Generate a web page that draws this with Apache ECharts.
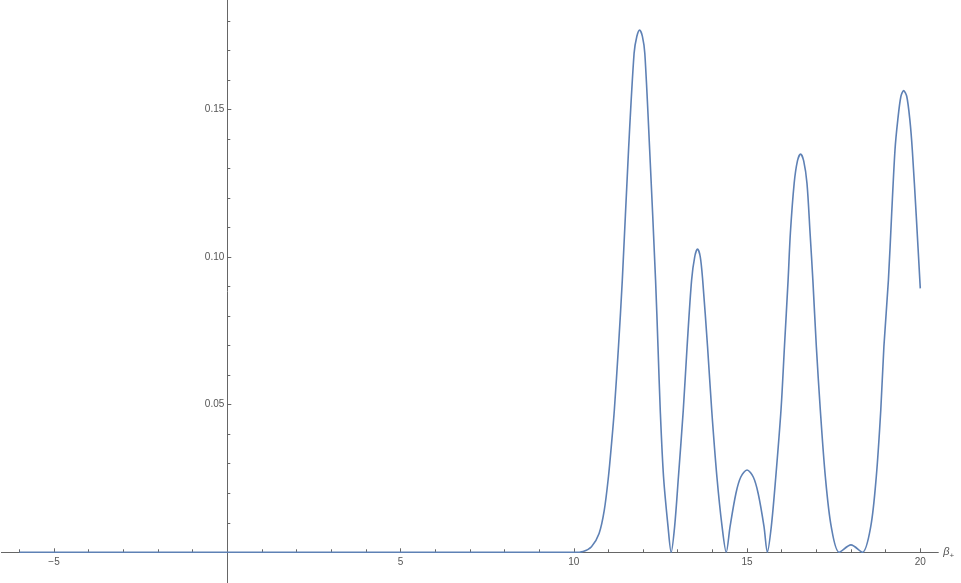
<!DOCTYPE html>
<html>
<head>
<meta charset="utf-8">
<script src="https://cdn.jsdelivr.net/npm/echarts@6/dist/echarts.min.js"></script>
<style>
  html, body { margin: 0; padding: 0; background: #fff; }
  #plot { width: 961px; height: 583px; }
</style>
</head>
<body>
<div id="plot"></div>
<script>
// curve: beta_+ values and the plotted height
const betaX = [
  -6, 10, 10.27, 10.51, 10.73, 10.88, 11.00, 11.09, 11.17, 11.29, 11.40, 11.58, 11.74, 11.82, 11.90,
  11.98, 12.05, 12.19, 12.36, 12.43, 12.495, 12.59, 12.72, 12.81, 12.91, 13.02, 13.16,
  13.27, 13.40, 13.49, 13.57, 13.65, 13.72, 13.86, 13.98, 14.13, 14.28, 14.40, 14.51, 14.68, 14.82, 15.0,
  15.18, 15.32, 15.49, 15.585, 15.70, 15.83, 15.98, 16.08, 16.185, 16.25, 16.36, 16.455, 16.545,
  16.635, 16.73, 16.82, 16.90, 17.0, 17.115, 17.26, 17.43, 17.66, 18.0, 18.33,
  18.57, 18.73, 18.86, 18.95, 19.08, 19.17, 19.27, 19.35, 19.44, 19.52, 19.61, 19.70, 19.77, 19.885, 20.0
];
const betaY = [
  0, 0, 0.0003, 0.0019, 0.0064, 0.0143, 0.0256, 0.0369, 0.0482, 0.0697, 0.0922, 0.1363, 0.169, 0.1748, 0.1769,
  0.1748, 0.169, 0.1363, 0.0922, 0.0697, 0.0482, 0.0256, 0.0087, 0, 0.0087, 0.0256, 0.0482,
  0.0697, 0.0922, 0.1001, 0.1027, 0.1001, 0.0922, 0.0697, 0.0482, 0.0256, 0.0087, 0, 0.0087, 0.0200, 0.0255, 0.0279,
  0.0255, 0.0200, 0.0087, 0, 0.0087, 0.0256, 0.0482, 0.0697, 0.0922, 0.108, 0.125, 0.1326, 0.1349,
  0.1326, 0.125, 0.108, 0.0922, 0.0697, 0.0482, 0.0256, 0.0087, 0, 0.0025, 0,
  0.0087, 0.0256, 0.0482, 0.0697, 0.0922, 0.1137, 0.1363, 0.1464, 0.1544, 0.1564, 0.1544, 0.1464, 0.1363, 0.1137, 0.0894
];

const xLabels = [-5, 5, 10, 15, 20];
const xMajorTicks = [-5, 5, 10, 15, 20];
const xMinorTicks = [-6, -4, -3, -2, -1, 1, 2, 3, 4, 6, 7, 8, 9, 11, 12, 13, 14, 16, 17, 18, 19];
const yLabels = [0.05, 0.10, 0.15];
const yMinorTicks = [0.01, 0.02, 0.03, 0.04, 0.06, 0.07, 0.08, 0.09, 0.11, 0.12, 0.13, 0.14, 0.16, 0.17, 0.18];

const axisColor = '#666';
const textColor = '#555';

// axes cross at the origin, shifted in from the grid edges
const xMin = -6.52, xMax = 20.52, yMin = -0.0104, yMax = 0.1871;
const gridLeft = 1.4, gridRight = 22.7;
const W = 961, H = 583;
const xAxisShift = -H * (0 - yMin) / (yMax - yMin);
const yAxisShift = -(W - gridLeft - gridRight) * (0 - xMin) / (xMax - xMin);

let myChart = echarts.init(document.getElementById('plot'));

let points = betaX.map((x, i) => [x, betaY[i]]);

var option = {
  backgroundColor: '#fff',
  animation: false,
  textStyle: { fontFamily: 'Liberation Sans', fontSize: 10, color: textColor },
  grid: { left: gridLeft, right: gridRight, top: 0, bottom: 0, containLabel: false, outerBoundsMode: 'none' },
  xAxis: [
    {
      type: 'value', min: xMin, max: xMax, position: 'bottom', offset: xAxisShift,
      axisLine: { onZero: false, lineStyle: { color: axisColor, width: 1 } },
      axisTick: { inside: true, length: 4, customValues: xMajorTicks, lineStyle: { color: axisColor } },
      axisLabel: {
        customValues: xLabels, color: textColor, fontSize: 10, margin: 5,
        formatter: v => String(v).replace('-', '\u2212')
      },
      splitLine: { show: false },
      name: '{b|β}{s|+}',
      nameLocation: 'end',
      nameGap: 5,
      nameTextStyle: {
        rich: {
          b: { fontFamily: 'Liberation Sans', fontStyle: 'italic', fontSize: 11, color: textColor },
          s: { fontFamily: 'Liberation Sans', fontSize: 8, color: textColor, padding: [6, 0, 0, 0] }
        }
      }
    },
    {
      type: 'value', min: xMin, max: xMax, position: 'bottom', offset: xAxisShift,
      axisLine: { show: false, onZero: false },
      axisTick: { inside: true, length: 3, customValues: xMinorTicks, lineStyle: { color: axisColor } },
      axisLabel: { show: false },
      splitLine: { show: false }
    }
  ],
  yAxis: [
    {
      type: 'value', min: yMin, max: yMax, position: 'left', offset: yAxisShift,
      axisLine: { show: true, onZero: false, lineStyle: { color: axisColor, width: 1 } },
      axisTick: { show: true, inside: true, length: 4, customValues: yLabels, lineStyle: { color: axisColor } },
      axisLabel: {
        customValues: yLabels, color: textColor, fontSize: 10, margin: 3,
        formatter: v => v.toFixed(2)
      },
      splitLine: { show: false }
    },
    {
      type: 'value', min: yMin, max: yMax, position: 'left', offset: yAxisShift,
      axisLine: { show: false, onZero: false },
      axisTick: { show: true, inside: true, length: 3, customValues: yMinorTicks, lineStyle: { color: axisColor } },
      axisLabel: { show: false },
      splitLine: { show: false }
    }
  ],
  series: [
    {
      type: 'line',
      data: points,
      showSymbol: false,
      smooth: 0.3,
      clip: false,
      lineStyle: { color: '#5E81B5', width: 1.6 },
      z: 5
    }
  ]
};

myChart.setOption(option);
window.addEventListener('resize', function () {
  myChart.resize();
});
</script>
</body>
</html>
